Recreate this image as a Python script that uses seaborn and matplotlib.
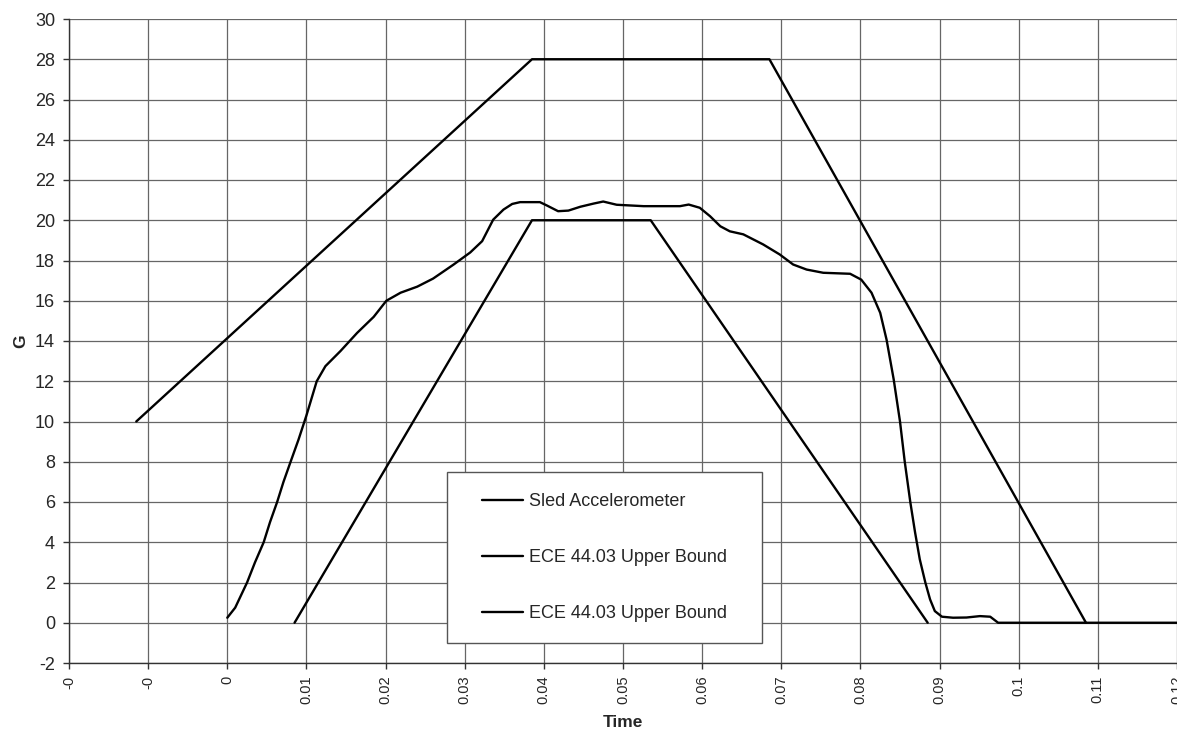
import numpy as np
import pandas as pd
import matplotlib
matplotlib.use("Agg")
import matplotlib.pyplot as plt
from matplotlib.patches import Rectangle
import seaborn as sns

# ── data ─────────────────────────────────────────────────────────────────────
sled_time = [0.0, 0.001, 0.0025, 0.0035, 0.0046, 0.0054, 0.0063, 0.0071, 0.008,
             0.009, 0.01, 0.0113, 0.0124, 0.0143, 0.0164, 0.0185, 0.0201, 0.0219,
             0.024, 0.026, 0.0286, 0.0307, 0.0322, 0.0336, 0.0349, 0.036, 0.037,
             0.0395, 0.0404, 0.0418, 0.0431, 0.0446, 0.0463, 0.0475, 0.0492,
             0.0526, 0.0572, 0.0583, 0.0597, 0.061, 0.0623, 0.0635, 0.0652,
             0.0677, 0.0698, 0.0715, 0.0732, 0.0753, 0.0787, 0.0801, 0.0814,
             0.0825, 0.0833, 0.0842, 0.085, 0.0856, 0.0863, 0.0869, 0.0875,
             0.0882, 0.0888, 0.0894, 0.0903, 0.0917, 0.0934, 0.0951, 0.0964,
             0.0974, 0.12]
sled_g = [0.25, 0.75, 2.0, 3.0, 4.0, 5.0, 6.0, 7.0, 8.0,
          9.1, 10.3, 12.0, 12.75, 13.5, 14.4, 15.2, 16.0, 16.4,
          16.7, 17.1, 17.8, 18.4, 18.96, 20.03, 20.53, 20.81, 20.9,
          20.9, 20.73, 20.45, 20.48, 20.67, 20.83, 20.93, 20.77,
          20.7, 20.7, 20.78, 20.62, 20.2, 19.7, 19.45, 19.3,
          18.8, 18.3, 17.8, 17.55, 17.39, 17.34, 17.05, 16.4,
          15.4, 14.07, 12.1, 10.0, 8.0, 6.0, 4.5, 3.15,
          2.0, 1.16, 0.58, 0.3, 0.25, 0.26, 0.33, 0.3,
          0.0, 0.0]

outer_time = [-0.0115, 0.0385, 0.0685, 0.1085]
outer_g = [10, 28, 28, 0]

inner_time = [0.0085, 0.0385, 0.0535, 0.0885]
inner_g = [0, 20, 20, 0]

series_names = ["Sled Accelerometer", "ECE 44.03 Upper Bound", "ECE 44.03 Upper Bound"]

x_ticks = [-0.02, -0.01, 0.0, 0.01, 0.02, 0.03, 0.04, 0.05, 0.06, 0.07, 0.08,
           0.09, 0.1, 0.11, 0.12]
x_tick_labels = ["-0", "-0", "0", "0.01", "0.02", "0.03", "0.04", "0.05", "0.06",
                 "0.07", "0.08", "0.09", "0.1", "0.11", "0.12"]
y_ticks = list(range(-2, 31, 2))

# ── style ────────────────────────────────────────────────────────────────────
sns.set_theme(style="white")
plt.rcParams["font.family"] = ["Liberation Sans", "DejaVu Sans"]
plt.rcParams["axes.unicode_minus"] = False

fig = plt.figure(figsize=(11.77, 7.32), dpi=100)
ax = fig.add_axes([69 / 1177, 1 - 663 / 732, 1 - 69 / 1177, 644 / 732])

for t, g, name in zip([sled_time, outer_time, inner_time],
                      [sled_g, outer_g, inner_g], series_names):
    df = pd.DataFrame({"Time": t, "G": g})
    sns.lineplot(data=df, x="Time", y="G", color="black", linewidth=1.7,
                 sort=False, estimator=None, label=name, ax=ax, zorder=3)

ax.set_xlim(-0.02, 0.12)
ax.set_ylim(-2, 30)
ax.set_xticks(x_ticks)
ax.set_xticklabels(x_tick_labels, rotation=90, fontsize=10.5)
ax.set_yticks(y_ticks)
ax.tick_params(axis="y", labelsize=13, length=4, width=1, color="#333333",
               direction="out", left=True, pad=6)
ax.tick_params(axis="x", length=4, width=1, color="#333333",
               direction="out", bottom=True, pad=5)

ax.grid(True, color="#666666", linewidth=0.9)
ax.set_axisbelow(True)
for side in ["top", "right"]:
    ax.spines[side].set_visible(False)
for side in ["left", "bottom"]:
    ax.spines[side].set_color("#333333")
    ax.spines[side].set_linewidth(1)

ax.set_xlabel("Time", fontsize=12.5, fontweight="bold", va="center")
ax.set_ylabel("G", fontsize=12.5, fontweight="bold", va="center")
ax.xaxis.set_label_coords(0.5, -0.093)
ax.yaxis.set_label_coords(-0.0433, 0.5)

# legend box
ax.add_patch(Rectangle((0.341, 0.031), 0.2843, 0.2655, transform=ax.transAxes,
                       facecolor="white", edgecolor="#555555", linewidth=1,
                       zorder=4))
handles, labels = ax.get_legend_handles_labels()
leg = ax.legend(handles, labels, loc="center", bbox_to_anchor=(0.4833, 0.1638),
                frameon=False, fontsize=13, handlelength=2.3,
                handletextpad=0.35, labelspacing=2.15)
leg.set_zorder(5)

fig.savefig("out.png", dpi=100)
